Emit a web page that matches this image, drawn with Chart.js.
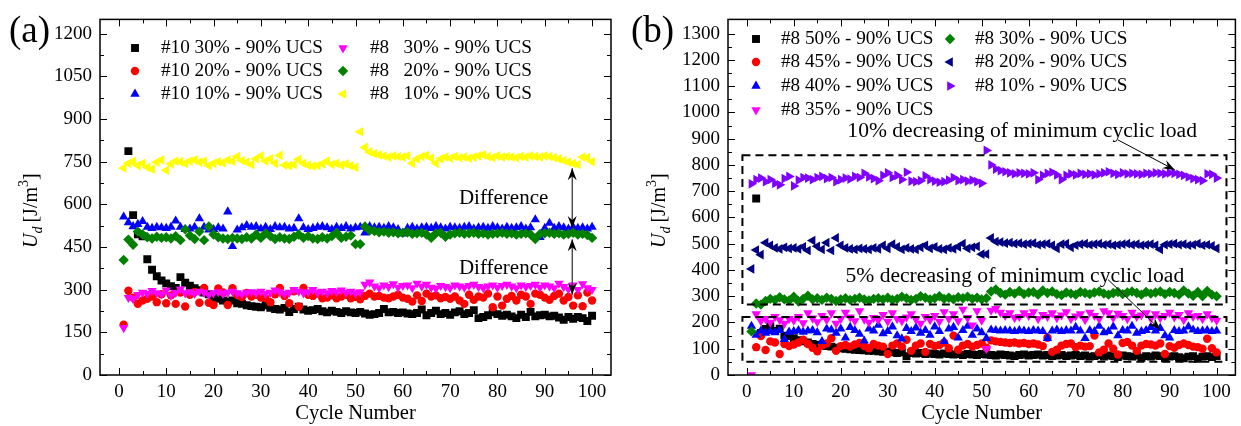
<!DOCTYPE html>
<html>
<head>
<meta charset="utf-8">
<script src="https://cdn.jsdelivr.net/npm/chart.js@4.4.1/dist/chart.umd.min.js"></script>
<style>
  html, body { margin: 0; padding: 0; background: #fff; }
  #wrap { position: relative; width: 1241px; height: 426px; overflow: hidden; }
  canvas { position: absolute; top: 0; }
  #chartA { left: 0; }
  #chartB { left: 620px; }
</style>
</head>
<body>
<div id="wrap">
  <canvas id="chartA" width="620" height="426"></canvas>
  <canvas id="chartB" width="621" height="426"></canvas>
</div>
<script>
// Cycle numbers on the x axis
const cycles = Array.from({ length: 100 }, (_, i) => i + 1);

// Dissipated energy U_d [J/m^3] per cycle, sample #10
const ud10_30 = [null, 787, 562, 495, 488, 407, 370, 347, 332, 322, 312, 306, 344, 324, 314, 305, 298, 290, 284, 272,
  268, 262, 258, 262, 252, 250, 245, 242, 240, 238, 245, 236, 232, 230, 236, 221, 232, 240, 230, 226,
  228, 232, 224, 220, 226, 222, 218, 224, 220, 218, 222, 216, 212, 214, 218, 232, 220, 222, 218, 220,
  216, 214, 218, 230, 210, 218, 226, 214, 218, 212, 220, 224, 214, 218, 228, 200, 204, 210, 220, 214,
  208, 212, 206, 200, 212, 204, 222, 206, 210, 212, 206, 208, 202, 194, 204, 198, 204, 200, 190, 208];
const ud10_20 = [177, 296, 272, 250, 262, 268, 276, 256, 284, 252, 280, 250, 290, 241, 282, 292, 254, 306, 254, 246,
  304, 290, 246, 305, 282, 274, 288, 276, 282, 272, 270, 256, 284, 306, 278, 252, 294, 241, 306, 282,
  278, 286, 270, 272, 280, 270, 276, 282, 270, 274, 266, 278, 286, 276, 278, 272, 270, 276, 282, 272,
  268, 258, 280, 260, 286, 276, 280, 270, 274, 268, 276, 262, 250, 282, 264, 276, 272, 286, 238, 276,
  244, 268, 278, 262, 282, 276, 250, 286, 282, 272, 264, 278, 286, 262, 274, 244, 280, 242, 290, 262];
const ud10_10 = [556, 536, 522, 530, 540, 520, 516, 520, 518, 516, 520, 542, 520, 512, 514, 520, 550, 520, 510, 512,
  518, 514, 574, 452, 510, 518, 526, 520, 522, 514, 520, 512, 522, 518, 520, 514, 516, 550, 518, 512,
  516, 520, 522, 518, 512, 520, 516, 522, 514, 518, 520, 500, 522, 518, 520, 516, 522, 518, 512, 496,
  516, 520, 514, 518, 520, 516, 522, 518, 514, 520, 518, 516, 520, 522, 514, 518, 520, 516, 522, 518,
  514, 520, 516, 518, 522, 514, 518, 546, 484, 516, 534, 516, 522, 518, 514, 520, 516, 518, 514, 520];

// Dissipated energy U_d [J/m^3] per cycle, sample #8
const ud8_30 = [166, 272, 268, 282, 290, 286, 296, 288, 284, 298, 280, 290, 302, 288, 292, 286, 294, 290, 282, 288,
  292, 286, 290, 294, 288, 284, 290, 292, 288, 294, 286, 290, 298, 292, 286, 290, 300, 294, 288, 292,
  300, 290, 294, 288, 296, 292, 298, 290, 294, 288, 292, 318, 326, 312, 306, 316, 310, 320, 308, 314,
  316, 306, 322, 312, 318, 308, 304, 314, 310, 306, 316, 312, 308, 314, 318, 310, 306, 312, 316, 308,
  314, 318, 312, 306, 316, 310, 314, 318, 308, 316, 312, 306, 322, 310, 302, 316, 300, 320, 306, 300];
const ud8_20 = [404, 476, 458, 504, 494, 484, 480, 486, 482, 484, 480, 488, 474, 512, 490, 478, 504, 474, 522, 494,
  484, 480, 478, 482, 480, 478, 484, 480, 494, 482, 498, 488, 478, 484, 480, 478, 486, 494, 482, 488,
  480, 478, 484, 480, 488, 500, 482, 486, 490, 460, 460, 522, 508, 506, 502, 504, 500, 502, 498, 500,
  502, 496, 498, 500, 494, 482, 498, 500, 486, 494, 498, 500, 496, 498, 500, 496, 498, 494, 496, 498,
  500, 496, 498, 494, 496, 498, 494, 478, 496, 498, 500, 496, 498, 494, 496, 500, 494, 496, 492, 482];
const ud8_10 = [728, 744, 750, 736, 744, 730, 724, 748, 756, 720, 742, 752, 750, 744, 752, 756, 748, 752, 736, 744,
  750, 746, 756, 752, 768, 754, 748, 740, 760, 770, 752, 760, 744, 772, 738, 736, 740, 758, 744, 738,
  734, 736, 742, 752, 740, 744, 738, 742, 736, 730, 855, 800, 784, 778, 774, 770, 766, 770, 768, 766,
  770, 744, 760, 768, 772, 762, 744, 760, 766, 762, 768, 764, 766, 762, 766, 770, 774, 768, 764, 770,
  766, 768, 766, 764, 768, 766, 770, 768, 766, 770, 768, 764, 760, 754, 748, 744, 740, 766, 764, 750];
const ud8_50 = [null, 672, 160, 175, 186, 168, 176, 150, 148, 140, 132, 128, 124, 118, 115, 112, 110, 108, 104, 102,
  100, 98, 96, 95, 94, 92, 92, 90, 88, 90, 86, 84, 86, 72, 84, 82, 84, 80, 82, 80,
  78, 82, 80, 78, 80, 76, 80, 78, 76, 80, 78, 76, 74, 78, 76, 74, 72, 76, 78, 74,
  76, 78, 74, 76, 72, 74, 76, 72, 74, 76, 72, 74, 70, 72, 76, 70, 74, 72, 68, 74,
  72, 70, 74, 66, 72, 70, 74, 72, 64, 70, 72, 68, 64, 70, 72, 62, 70, 72, 68, 72];
const ud8_45 = [null, 106, 148, 95, 128, 124, 80, 118, 110, 116, 124, 134, 118, 104, 90, 112, 120, 140, 92, 110,
  114, 108, 116, 122, 110, 102, 118, 112, 108, 80, 112, 120, 108, 134, 92, 112, 120, 88, 118, 110,
  114, 124, 102, 150, 96, 112, 118, 108, 114, 120, 104, 132, 128, 126, 124, 122, 124, 120, 122, 118,
  120, 116, 110, 142, 88, 96, 112, 118, 120, 106, 112, 108, 110, 150, 86, 96, 120, 100, 78, 122,
  126, 112, 92, 112, 118, 116, 112, 120, 80, 110, 104, 114, 120, 114, 108, 106, 100, 138, 102, 86];
const ud8_40 = [186, 152, 168, 160, 166, 162, 170, 136, 164, 166, 170, 164, 168, 170, 162, 128, 176, 172, 160, 176,
  142, 182, 170, 156, 130, 176, 168, 190, 158, 166, 184, 150, 138, 178, 166, 180, 160, 170, 152, 184,
  166, 128, 176, 182, 142, 170, 186, 152, 176, 162, 140, 172, 170, 168, 170, 168, 166, 170, 168, 166,
  170, 168, 166, 140, 168, 172, 166, 170, 168, 182, 168, 140, 170, 166, 186, 162, 166, 184, 150, 170,
  168, 186, 160, 166, 170, 182, 168, 178, 150, 142, 170, 166, 168, 184, 172, 166, 168, 170, 166, 168];
const ud8_35 = [0, 232, 206, 214, 200, 222, 210, 196, 214, 208, 222, 198, 236, 216, 202, 226, 210, 236, 196, 214,
  238, 220, 206, 244, 212, 200, 218, 210, 230, 204, 236, 214, 206, 220, 232, 212, 196, 222, 210, 226,
  204, 240, 214, 232, 206, 250, 218, 190, 244, 208, 100, 246, 252, 238, 226, 236, 218, 222, 236, 226,
  240, 214, 230, 222, 236, 218, 228, 240, 214, 224, 232, 210, 238, 226, 214, 244, 236, 218, 234, 226,
  214, 238, 222, 228, 236, 216, 232, 218, 226, 238, 220, 230, 210, 236, 222, 226, 214, 232, 218, 208];

// Axis ticks
const xTicks = [0, 10, 20, 30, 40, 50, 60, 70, 80, 90, 100];
const xMinor = [5, 15, 25, 35, 45, 55, 65, 75, 85, 95];
const yTicksA = [0, 150, 300, 450, 600, 750, 900, 1050, 1200];
const yMinorA = [75, 225, 375, 525, 675, 825, 975, 1125];
const yTicksB = [0, 100, 200, 300, 400, 500, 600, 700, 800, 900, 1000, 1100, 1200, 1300];
const yMinorB = [50, 150, 250, 350, 450, 550, 650, 750, 850, 950, 1050, 1150, 1250];

const FONT = '"Liberation Serif", "Times New Roman", serif';

function points(values) {
  const out = [];
  values.forEach((v, i) => { if (v !== null) out.push({ x: cycles[i], y: v }); });
  return out;
}

function makeDatasets(series) {
  return series.map((s, i) => ({
    label: s.label,
    data: points(s.values),
    showLine: false,
    pointStyle: s.style,
    pointRotation: s.rot,
    pointRadius: s.r,
    pointHoverRadius: s.r,
    pointBackgroundColor: s.color,
    pointBorderColor: s.color,
    pointBorderWidth: 0,
    backgroundColor: s.color,
    borderColor: s.color,
    clip: 0,
    order: series.length - i
  }));
}

function markerPath(ctx, style, rotDeg, r, x, y) {
  ctx.beginPath();
  if (style === 'rect') {
    const s = Math.SQRT1_2 * r;
    ctx.rect(x - s, y - s, 2 * s, 2 * s);
  } else if (style === 'circle') {
    ctx.arc(x, y, r, 0, Math.PI * 2);
  } else if (style === 'rectRot') {
    ctx.moveTo(x - r, y); ctx.lineTo(x, y - r); ctx.lineTo(x + r, y); ctx.lineTo(x, y + r);
    ctx.closePath();
  } else {
    let a = rotDeg * Math.PI / 180;
    ctx.moveTo(x + Math.sin(a) * r, y - Math.cos(a) * r);
    a += 2 * Math.PI / 3;
    ctx.lineTo(x + Math.sin(a) * r, y - Math.cos(a) * r);
    a += 2 * Math.PI / 3;
    ctx.lineTo(x + Math.sin(a) * r, y - Math.cos(a) * r);
    ctx.closePath();
  }
}

function arrowHead(ctx, x0, y0, x1, y1) {
  const ang = Math.atan2(y1 - y0, x1 - x0);
  const L = 12, W = 4.5, N = 8;
  ctx.save();
  ctx.translate(x1, y1);
  ctx.rotate(ang);
  ctx.beginPath();
  ctx.moveTo(0, 0);
  ctx.lineTo(-L, -W);
  ctx.lineTo(-N, 0);
  ctx.lineTo(-L, W);
  ctx.closePath();
  ctx.fill();
  ctx.restore();
}

function drawYTitle(ctx, xBase, yStart) {
  ctx.save();
  ctx.translate(xBase, yStart);
  ctx.rotate(-Math.PI / 2);
  ctx.fillStyle = '#000';
  ctx.textAlign = 'left';
  ctx.textBaseline = 'alphabetic';
  let x = 0;
  ctx.font = 'italic 20px ' + FONT;
  ctx.fillText('U', x, 0); x += ctx.measureText('U').width;
  ctx.font = 'italic 14px ' + FONT;
  ctx.fillText('d', x, 5); x += ctx.measureText('d').width + 4;
  ctx.font = '20px ' + FONT;
  ctx.fillText('[J/m', x, 0); x += ctx.measureText('[J/m').width;
  ctx.font = '14px ' + FONT;
  ctx.fillText('3', x, -9); x += ctx.measureText('3').width;
  ctx.font = '20px ' + FONT;
  ctx.fillText(']', x, 0);
  ctx.restore();
}

// Frame, inward ticks, legend, notes and panel letter
const panelDecor = {
  id: 'panelDecor',
  afterDatasetsDraw(chart, args, o) {
    const { ctx, chartArea: a, scales: { x, y } } = chart;
    ctx.save();
    ctx.strokeStyle = '#000';
    ctx.fillStyle = '#000';

    // tick marks on all four sides
    ctx.lineWidth = 1;
    const tick = (vals, len) => {
      vals.forEach(v => {
        const px = Math.round(x.getPixelForValue(v)) + 0.5;
        ctx.beginPath();
        ctx.moveTo(px, a.bottom); ctx.lineTo(px, a.bottom - len);
        ctx.moveTo(px, a.top); ctx.lineTo(px, a.top + len);
        ctx.stroke();
      });
    };
    const tickY = (vals, len) => {
      vals.forEach(v => {
        const py = Math.round(y.getPixelForValue(v)) + 0.5;
        ctx.beginPath();
        ctx.moveTo(a.left, py); ctx.lineTo(a.left + len, py);
        ctx.moveTo(a.right, py); ctx.lineTo(a.right - len, py);
        ctx.stroke();
      });
    };
    tick(xTicks, 7); tick(xMinor, 4);
    tickY(o.yTicks, 7); tickY(o.yMinor, 4);

    ctx.lineWidth = 1.5;
    ctx.strokeRect(a.left, a.top, a.right - a.left, a.bottom - a.top);

    // dashed boxes
    ctx.lineWidth = 2;
    ctx.setLineDash([8, 5]);
    (o.boxes || []).forEach(b => {
      const l = x.getPixelForValue(b[0]), bt = y.getPixelForValue(b[1]);
      const r = x.getPixelForValue(b[2]), t = y.getPixelForValue(b[3]);
      ctx.strokeRect(l, t, r - l, bt - t);
    });
    ctx.setLineDash([]);

    // arrows
    ctx.lineWidth = 1;
    (o.arrows || []).forEach(ar => {
      const x0 = x.getPixelForValue(ar[0]), y0 = y.getPixelForValue(ar[1]);
      const x1 = x.getPixelForValue(ar[2]), y1 = y.getPixelForValue(ar[3]);
      ctx.beginPath(); ctx.moveTo(x0, y0); ctx.lineTo(x1, y1); ctx.stroke();
      arrowHead(ctx, x0, y0, x1, y1);
      if (ar[4]) arrowHead(ctx, x1, y1, x0, y0);
    });

    // notes
    ctx.font = o.noteFont;
    ctx.textBaseline = 'middle';
    (o.notes || []).forEach(n => {
      ctx.textAlign = n.align;
      ctx.fillText(n.text, x.getPixelForValue(n.x), y.getPixelForValue(n.y));
    });

    // legend
    ctx.font = '19.2px ' + FONT;
    ctx.textAlign = 'left';
    ctx.textBaseline = 'middle';
    chart.data.datasets.forEach((ds, i) => {
      const slot = o.legend[i];
      ctx.fillStyle = ds.pointBackgroundColor;
      markerPath(ctx, ds.pointStyle, ds.pointRotation, ds.pointRadius, slot[0], slot[2]);
      ctx.fill();
      ctx.fillStyle = '#000';
      ctx.fillText(ds.label, slot[1], slot[2]);
    });

    // panel letter and y-axis title
    ctx.font = '37px ' + FONT;
    ctx.textBaseline = 'alphabetic';
    ctx.fillText(o.letter, o.letterPos[0], o.letterPos[1]);
    ctx.restore();
    drawYTitle(ctx, o.titlePos[0], o.titlePos[1]);
  }
};

function axisOptions(ymax, yTicks, yWidth) {
  const tickFont = { family: FONT, size: 19 };
  return {
    x: {
      type: 'linear', min: -4, max: 104,
      afterBuildTicks: s => { s.ticks = xTicks.map(v => ({ value: v })); },
      afterFit: s => { s.height = 51; },
      ticks: { font: tickFont, color: '#000', padding: 6, maxRotation: 0, autoSkip: false, callback: v => String(v) },
      grid: { display: false, drawTicks: false },
      border: { display: false },
      title: { display: true, text: 'Cycle Number', color: '#000', font: { family: FONT, size: 20.6 }, padding: 0 }
    },
    y: {
      type: 'linear', min: 0, max: ymax,
      afterBuildTicks: s => { s.ticks = yTicks.map(v => ({ value: v })); },
      afterFit: s => { s.width = yWidth; },
      ticks: { font: tickFont, color: '#000', padding: 8, autoSkip: false, callback: v => String(v) },
      grid: { display: false, drawTicks: false },
      border: { display: false }
    }
  };
}

const seriesA = [
  { label: '#10 30% - 90% UCS', values: ud10_30, color: '#000000', style: 'rect', rot: 0, r: 5.6 },
  { label: '#10 20% - 90% UCS', values: ud10_20, color: '#ff0000', style: 'circle', rot: 0, r: 4.2 },
  { label: '#10 10% - 90% UCS', values: ud10_10, color: '#0000ff', style: 'triangle', rot: 0, r: 5.4 },
  { label: '#8   30% - 90% UCS', values: ud8_30, color: '#ff00ff', style: 'triangle', rot: 180, r: 5.4 },
  { label: '#8   20% - 90% UCS', values: ud8_20, color: '#008000', style: 'rectRot', rot: 0, r: 5.2 },
  { label: '#8   10% - 90% UCS', values: ud8_10, color: '#ffff00', style: 'triangle', rot: -90, r: 5.6 }
];

const seriesB = [
  { label: '#8 50% - 90% UCS', values: ud8_50, color: '#000000', style: 'rect', rot: 0, r: 5.6 },
  { label: '#8 45% - 90% UCS', values: ud8_45, color: '#ff0000', style: 'circle', rot: 0, r: 4.2 },
  { label: '#8 40% - 90% UCS', values: ud8_40, color: '#0000ff', style: 'triangle', rot: 0, r: 5.4 },
  { label: '#8 35% - 90% UCS', values: ud8_35, color: '#ff00ff', style: 'triangle', rot: 180, r: 5.4 },
  { label: '#8 30% - 90% UCS', values: ud8_30, color: '#008000', style: 'rectRot', rot: 0, r: 5.2 },
  { label: '#8 20% - 90% UCS', values: ud8_20, color: '#000080', style: 'triangle', rot: -90, r: 5.6 },
  { label: '#8 10% - 90% UCS', values: ud8_10, color: '#8000ff', style: 'triangle', rot: 90, r: 5.6 }
];

new Chart(document.getElementById('chartA'), {
  type: 'scatter',
  data: { datasets: makeDatasets(seriesA) },
  options: {
    responsive: false, animation: false, devicePixelRatio: 1,
    layout: { padding: { left: 0, top: 17, right: 9, bottom: 0 } },
    scales: axisOptions(1250, yTicksA, 100),
    plugins: {
      legend: { display: false }, tooltip: { enabled: false },
      panelDecor: {
        yTicks: yTicksA, yMinor: yMinorA,
        legend: [[135, 161, 48], [135, 161, 71], [135, 161, 94], [343, 370, 48], [343, 370, 71], [343, 370, 94]],
        notes: [
          { x: 81.3, y: 621, text: 'Difference', align: 'center' },
          { x: 81.3, y: 373, text: 'Difference', align: 'center' }
        ],
        noteFont: '21px ' + FONT,
        arrows: [[95.8, 517, 95.8, 727, true], [95.8, 477, 95.8, 282, true]],
        letter: '(a)', letterPos: [9, 42],
        titlePos: [37, 248]
      }
    }
  },
  plugins: [panelDecor]
});

new Chart(document.getElementById('chartB'), {
  type: 'scatter',
  data: { datasets: makeDatasets(seriesB) },
  options: {
    responsive: false, animation: false, devicePixelRatio: 1,
    layout: { padding: { left: 0, top: 17, right: 3, bottom: 0 } },
    scales: axisOptions(1354, yTicksB, 108),
    plugins: {
      legend: { display: false }, tooltip: { enabled: false },
      panelDecor: {
        yTicks: yTicksB, yMinor: yMinorB,
        legend: [[136, 161, 39], [136, 161, 62], [136, 161, 86], [136, 161, 110], [330, 355, 39], [330, 355, 62], [330, 355, 86]],
        notes: [
          { x: 21.4, y: 929, text: '10% decreasing of minimum cyclic load', align: 'left' },
          { x: 21.0, y: 375, text: '5% decreasing of minimum cyclic load', align: 'left' }
        ],
        noteFont: '21.6px ' + FONT,
        boxes: [[-0.93, 268, 102.1, 836.6], [-0.93, 50.4, 102.1, 221]],
        arrows: [[79.0, 895, 91.1, 781, false], [76.9, 363, 88.0, 173, false]],
        letter: '(b)', letterPos: [11, 42],
        titlePos: [45, 248]
      }
    }
  },
  plugins: [panelDecor]
});
</script>
</body>
</html>
